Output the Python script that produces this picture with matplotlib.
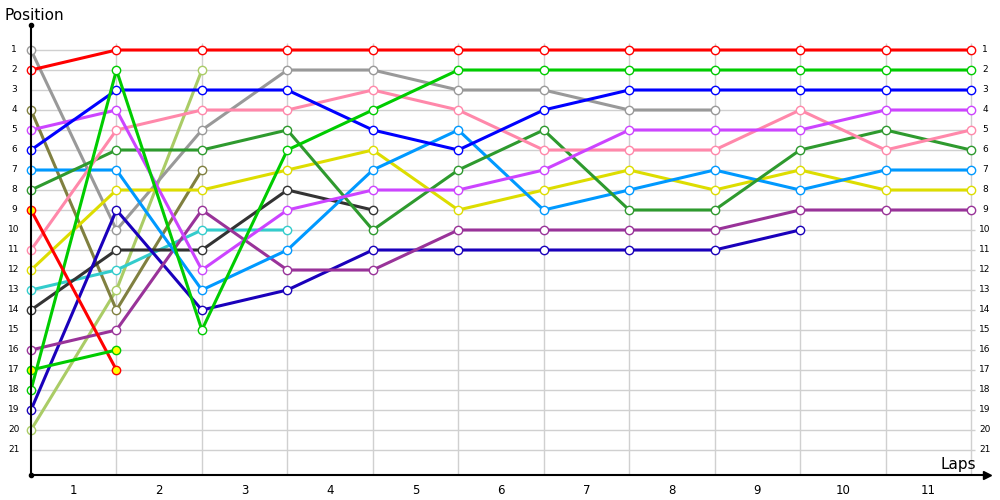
import matplotlib
matplotlib.use('Agg')
import matplotlib.pyplot as plt

# ---------------- data ----------------
laps = list(range(0, 12))
lap_labels = [str(i) for i in range(1, 12)]
positions = list(range(1, 22))

red_a = [2, 1, 1, 1, 1, 1, 1, 1, 1, 1, 1, 1]
green_a = [18, 2, 15, 6, 4, 2, 2, 2, 2, 2, 2, 2]
blue_a = [6, 3, 3, 3, 5, 6, 4, 3, 3, 3, 3, 3]
gray_a = [1, 10, 5, 2, 2, 3, 3, 4, 4]
magenta_a = [5, 4, 12, 9, 8, 8, 7, 5, 5, 5, 4, 4]
pink_a = [11, 5, 4, 4, 3, 4, 6, 6, 6, 4, 6, 5]
dgreen_a = [8, 6, 6, 5, 10, 7, 5, 9, 9, 6, 5, 6]
lblue_a = [7, 7, 13, 11, 7, 5, 9, 8, 7, 8, 7, 7]
yellow_a = [12, 8, 8, 7, 6, 9, 8, 7, 8, 7, 8, 8]
purple_a = [16, 15, 9, 12, 12, 10, 10, 10, 10, 9, 9, 9]
dblue_a = [19, 9, 14, 13, 11, 11, 11, 11, 11, 10]
black_a = [14, 11, 11, 8, 9]
cyan_a = [13, 12, 10, 10]
olive_a = [4, 14, 7]
lolive_a = [20, 13, 2]
red_b = [9, 17]
green_b = [17, 16]

series = [
    (lolive_a, '#aacc66', 'white'),
    (olive_a, '#808040', 'white'),
    (cyan_a, '#33cccc', 'white'),
    (black_a, '#333333', 'white'),
    (gray_a, '#999999', 'white'),
    (dblue_a, '#1a00bb', 'white'),
    (purple_a, '#993399', 'white'),
    (yellow_a, '#dddd00', 'white'),
    (lblue_a, '#0099ff', 'white'),
    (dgreen_a, '#2e9a2e', 'white'),
    (pink_a, '#ff88aa', 'white'),
    (magenta_a, '#cc44ff', 'white'),
    (blue_a, '#0000ff', 'white'),
    (green_a, '#00cc00', 'white'),
    (red_b, '#ff0000', '#ffff00'),
    (green_b, '#00cc00', '#ffff00'),
    (red_a, '#ff0000', 'white'),
]

# ---------------- layout ----------------
W, H = 1000, 500
fig = plt.figure(figsize=(10, 5), dpi=100)
x0, x1, y_top, y_bot = 31, 987, 25, 475
ax = fig.add_axes([x0 / W, 1 - y_bot / H, (x1 - x0) / W, (y_bot - y_top) / H])
px_per_lap = 85.45
ax.set_xlim(0, (x1 - x0) / px_per_lap)
ax.set_ylim(1 + (y_bot - 50) / 20, 1 + (y_top - 50) / 20)

# grid
ax.hlines(positions, 0, 11.05, color='#d0d0d0', lw=1, zorder=0)
ax.vlines(laps[1:], 0.65, 1 + (y_bot - 50) / 20, color='#d0d0d0', lw=1, zorder=0)

# axes
for s in ['top', 'right']:
    ax.spines[s].set_visible(False)
for s in ['left', 'bottom']:
    ax.spines[s].set_color('black')
    ax.spines[s].set_linewidth(1.5)
ax.set_xticks([])
ax.set_yticks([])
ax.plot([1], [0], marker='>', color='black', ms=6, transform=ax.transAxes, clip_on=False)
ax.plot([0], [1], marker='o', color='black', ms=3, transform=ax.transAxes, clip_on=False)
ax.plot([0], [0], marker='o', color='black', ms=3, transform=ax.transAxes, clip_on=False)

# position labels on both sides
btf = matplotlib.transforms.blended_transform_factory(fig.transFigure, ax.transData)
for p in positions:
    ax.text(14 / W, p, str(p), transform=btf, ha='center', va='center', fontsize=6.5, color='black')
    ax.text(985 / W, p, str(p), transform=btf, ha='center', va='center', fontsize=6.5, color='black')

# lap labels
for i, lab in enumerate(lap_labels):
    ax.text(i + 0.5, 1 + (490 - 50) / 20, lab, ha='center', va='center', fontsize=8.5, clip_on=False)

# series
for vals, col, fill in series:
    xs = laps[:len(vals)]
    ax.plot(xs, vals, color=col, lw=2.2, solid_capstyle='round', zorder=2,
            marker='o', ms=6, mfc=fill, mec=col, mew=1.0, clip_on=False)

fig.text(4 / W, 1 - 15 / H, 'Position', ha='left', va='center', fontsize=11)
fig.text(976 / W, 1 - 465 / H, 'Laps', ha='right', va='center', fontsize=11)

fig.savefig('out.png', dpi=100)
